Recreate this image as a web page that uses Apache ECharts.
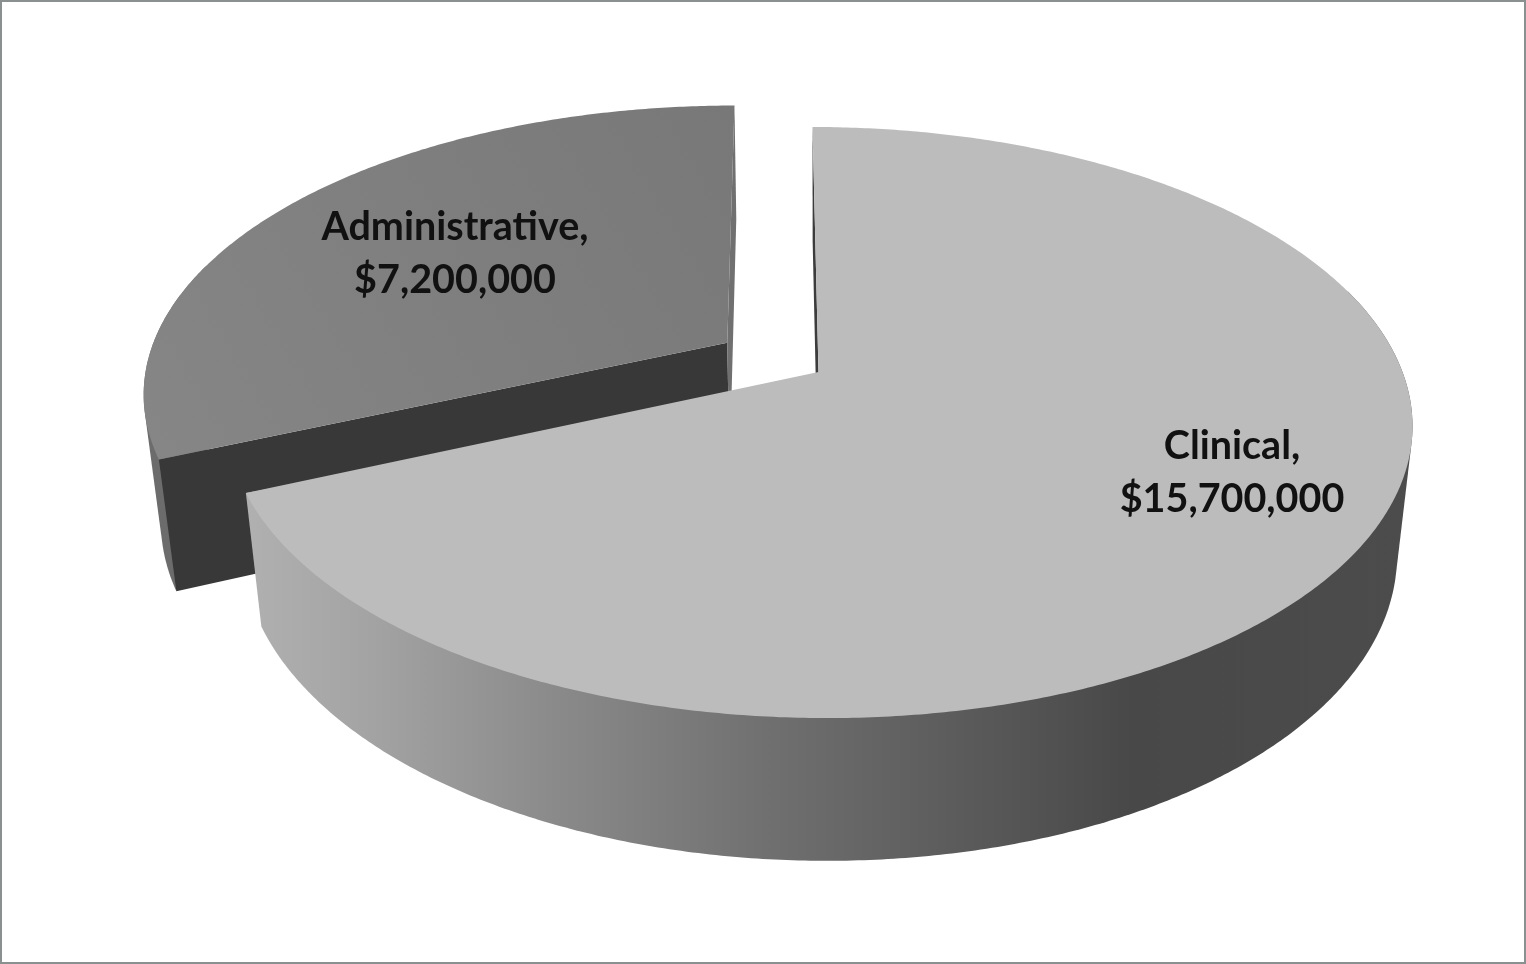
<!DOCTYPE html>
<html>
<head>
<meta charset="utf-8">
<title>Budget by category</title>
<style>html,body{margin:0;padding:0;background:#fff}#chart{width:1526px;height:964px}</style>
<script src="https://cdn.jsdelivr.net/npm/echarts@6/dist/echarts.min.js"></script>
</head>
<body>
<div id="chart"></div>
<script>
// Budget split
const categories = ['Clinical', 'Administrative'];
const amounts = [15700000, 7200000];

// Per-slice appearance
const topFill = ['#bcbcbc', null];
const startWallFill = ['#3c3c3c', '#383838'];
const endWallFill = [null, '#707070'];
const explode = [0, 0.189];
const labelCentre = [[1232, 473], [455, 254]];

// Perspective camera for the tilted disc: unit-radius ground plane, depth 1 for the rim
const view = { ox: 818.5, oy: 372, f: 584, g: 286.9, s: 7, k: 0.171, m: 0.0259, h: 131 };

function project(X, Y, Z) {
  const w = 1 - view.k * Y + view.m * Z;
  return [view.ox + (view.f * X + view.s * Y) / w, view.oy + (view.g * Y + view.h * Z) / w];
}
const total = amounts.reduce((a, b) => a + b, 0);

function sliceAngles(i) {
  let from = 0;
  for (let j = 0; j < i; j++) from += amounts[j] / total * 360;
  return [from, from + amounts[i] / total * 360];
}

// Monotone-chain outline of a point set
function convexHull(points) {
  const p = points.slice().sort((a, b) => a[0] - b[0] || a[1] - b[1]);
  const cross = (o, a, b) => (a[0] - o[0]) * (b[1] - o[1]) - (a[1] - o[1]) * (b[0] - o[0]);
  const half = (list) => {
    const out = [];
    for (const q of list) {
      while (out.length > 1 && cross(out[out.length - 2], out[out.length - 1], q) <= 0) out.pop();
      out.push(q);
    }
    out.pop();
    return out;
  };
  return half(p).concat(half(p.slice().reverse()));
}

function renderSlice(params, api) {
  const i = params.dataIndex;
  const value = api.value(0);
  const [a0, a1] = sliceAngles(i);
  const mid = (a0 + a1) / 2 * Math.PI / 180;
  const dx = explode[i] * Math.sin(mid);
  const dy = -explode[i] * Math.cos(mid);
  const rim = (deg, z) => {
    const t = deg * Math.PI / 180;
    return project(dx + Math.sin(t), dy - Math.cos(t), z);
  };
  const steps = Math.ceil(a1 - a0) * 2;
  const angles = [];
  for (let s = 0; s <= steps; s++) angles.push(a0 + (a1 - a0) * s / steps);
  const apex = (z) => project(dx, dy, z);
  const base = i === 0 ? 20 : 1;
  const poly = (points, fill, z2) => ({
    type: 'polygon', z2: base + z2, shape: { points }, style: { fill }
  });
  const outerFill = i === 0
    ? new echarts.graphic.LinearGradient(248, 0, 1412, 0, [
        { offset: 0, color: '#b0b0b0' },
        { offset: 0.1, color: '#a4a4a4' },
        { offset: 0.265, color: '#8a8a8a' },
        { offset: 0.46, color: '#6e6e6e' },
        { offset: 0.66, color: '#555555' },
        { offset: 0.76, color: '#484848' },
        { offset: 1, color: '#4c4c4c' }
      ], true)
    : '#6c6c6c';
  const surface = topFill[i] || new echarts.graphic.LinearGradient(0, 1, 1, 0, [
    { offset: 0, color: '#868686' },
    { offset: 1, color: '#787878' }
  ]);
  // Only the part of the rim turned towards the viewer shows as a wall
  const facing = angles.filter((a) => Math.cos(a * Math.PI / 180) < 0.3);
  const wallPoints = [];
  facing.forEach((a) => { wallPoints.push(rim(a, 0), rim(a, 1)); });
  const children = [
    poly(convexHull(wallPoints), outerFill, 0),
    poly([apex(0), rim(a0, 0), rim(a0, 1), apex(1)], startWallFill[i], 1)
  ];
  if (endWallFill[i]) {
    children.push(poly([apex(0), rim(a1, 0), rim(a1, 1), apex(1)], endWallFill[i], 1));
  }
  children.push(
    poly([apex(0)].concat(angles.map((a) => rim(a, 0))), surface, 3),
    {
      type: 'text',
      z2: base + 4,
      style: {
        x: labelCentre[i][0],
        y: labelCentre[i][1],
        text: categories[i] + ',\n$' + value.toLocaleString('en-US'),
        align: 'center',
        verticalAlign: 'middle',
        font: 'bold 39.5px Lato',
        lineHeight: 53,
        fill: '#111111'
      }
    }
  );
  return { type: 'group', children };
}

const chart = echarts.init(document.getElementById('chart'), null, { renderer: 'canvas' });
chart.setOption({
  animation: false,
  backgroundColor: '#ffffff',
  graphic: [{
    type: 'rect',
    silent: true,
    shape: { x: 1, y: 1, width: 1524, height: 962 },
    style: { fill: 'none', stroke: '#8a8f90', lineWidth: 2 }
  }],
  series: [{
    type: 'custom',
    coordinateSystem: 'none',
    renderItem: renderSlice,
    silent: true,
    data: amounts.map((v) => [v])
  }]
});
</script>
</body>
</html>
